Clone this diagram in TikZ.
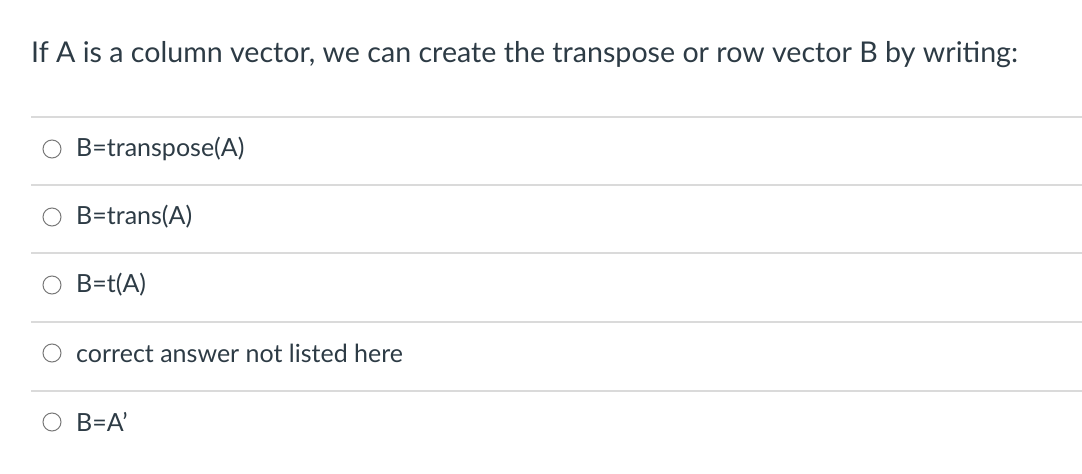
\documentclass[tikz,border=0pt]{standalone}
\usepackage{fontspec}
\setmainfont{Lato}
\definecolor{txt}{RGB}{45,59,69}
\definecolor{sep}{RGB}{218,218,218}
\definecolor{rad}{RGB}{120,120,120}
\begin{document}
\begin{tikzpicture}[x=1pt,y=-1pt,
  sepline/.style={draw=sep,line width=1.2pt},
  radio/.style={circle,draw=rad,line width=1pt,minimum size=18pt,inner sep=0pt},
  answer/.style={anchor=west,text=txt,font=\fontsize{25}{28}\selectfont,inner sep=0pt}]
\useasboundingbox (0,0) rectangle (1082,474);
\node[anchor=base west,text=txt,font=\fontsize{28.6}{32}\selectfont,inner sep=0pt] (q) at (31,62) {If A is a column vector, we can create the transpose or row vector B by writing:};
\foreach \y/\n in {117/a,185/b,253/c,322/d,391/e}{
  \coordinate (l\n) at (31,\y); \coordinate (r\n) at (1082,\y);
  \draw[sepline] (l\n) -- (r\n);}
\foreach \y/\n/\t in {149/1/{B=transpose(A)},217/2/{B=trans(A)},285/3/{B=t(A)},353/4/{correct answer not listed here},422/5/{B=A\char"0027}}{
  \node[radio] (o\n) at (52,\y) {};
  \node[answer] (t\n) at (76,\y) {\t};}
\end{tikzpicture}
\end{document}
